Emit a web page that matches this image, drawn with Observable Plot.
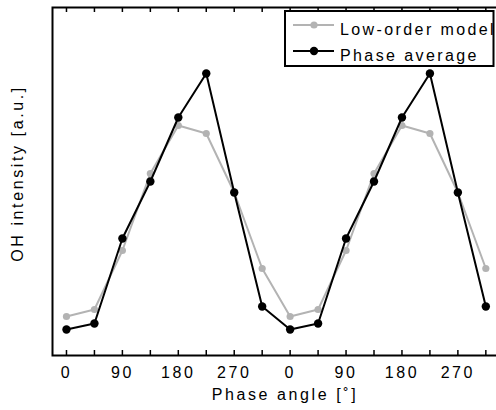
<!DOCTYPE html>
<html><head><meta charset="utf-8">
<script src="https://cdn.jsdelivr.net/npm/d3@7"></script>
<script src="https://cdn.jsdelivr.net/npm/@observablehq/plot@0.6"></script>
<style>
html,body{margin:0;padding:0;background:#fff;overflow:hidden;}
#wrap{position:relative;width:496px;height:410px;overflow:hidden;}
#legend{position:absolute;left:0;top:0;pointer-events:none;}
</style></head><body><div id="wrap"></div>
<script>
// Phase angle (cumulative over two periods), degrees
const phaseAngle = [0,45,90,135,180,225,270,315,360,405,450,495,540,585,630,675];
// OH intensity, arbitrary units
const lowOrderModel = [0.39,0.46,1.05,1.82,2.30,2.22,1.63,0.87,0.39,0.46,1.05,1.82,2.30,2.22,1.63,0.87];
const phaseAverage  = [0.26,0.32,1.17,1.74,2.38,2.82,1.63,0.49,0.26,0.32,1.17,1.74,2.38,2.82,1.63,0.49];
const tickValues = [0,45,90,135,180,225,270,315,360,405,450,495,540,585,630,675];
const labelValues = [0,90,180,270,360,450,540,630];
const tickLabels = ["0","90","180","270","0","90","180","270"];
const seriesNames = ["Low-order model","Phase average"];
const seriesColors = ["#b3b3b3","#000000"];
const xLabel = "Phase angle [˚]";
const yLabel = "OH intensity [a.u.]";

const low = phaseAngle.map((a,i)=>({x:a, y:lowOrderModel[i]}));
const avg = phaseAngle.map((a,i)=>({x:a, y:phaseAverage[i]}));

const plot = Plot.plot({
  width:496, height:410,
  marginLeft:52, marginTop:7, marginBottom:55, marginRight:-3,
  style:{fontFamily:"'Liberation Sans', Arial, sans-serif", fontSize:"16px", letterSpacing:"2.6px", color:"#000", background:"#fff", overflow:"hidden"},
  x:{domain:[-22.5, 697]},
  y:{domain:[0, 3.48], axis:null},
  marks:[
    Plot.lineY(low, {x:"x", y:"y", stroke:seriesColors[0], strokeWidth:2}),
    Plot.dot(low, {x:"x", y:"y", fill:seriesColors[0], r:3.6}),
    Plot.lineY(avg, {x:"x", y:"y", stroke:seriesColors[1], strokeWidth:2}),
    Plot.dot(avg, {x:"x", y:"y", fill:seriesColors[1], r:4.2}),
    Plot.tickX(tickValues, {x:d=>d, insetBottom:343, stroke:"#000", strokeWidth:1.5}),
    Plot.tickX(tickValues, {x:d=>d, insetTop:343, stroke:"#000", strokeWidth:1.5}),
    Plot.axisX(labelValues, {tickSize:0, tickPadding:11, tickFormat:d=>tickLabels[labelValues.indexOf(d)], label:null}),
    Plot.frame({stroke:"#000", strokeWidth:2}),
    Plot.text([xLabel], {text:d=>d, frameAnchor:"bottom", lineAnchor:"top", textAnchor:"middle", dy:33, dx:9}),
    Plot.text([yLabel], {text:d=>d, frameAnchor:"left", rotate:-90, textAnchor:"middle", lineAnchor:"middle", dx:-35, dy:-8})
  ]
});
const wrap = document.getElementById("wrap");
wrap.appendChild(plot);

// Legend overlay
const lg = d3.select(wrap).append("svg").attr("id","legend").attr("width",496).attr("height",410);
lg.append("rect").attr("x",285).attr("y",11).attr("width",208.5).attr("height",55)
  .attr("fill","#fff").attr("stroke","#000").attr("stroke-width",2);
seriesNames.forEach((name,i)=>{
  const cy = 25 + i*26;
  lg.append("line").attr("x1",293).attr("x2",334).attr("y1",cy).attr("y2",cy)
    .attr("stroke",seriesColors[i]).attr("stroke-width",2);
  lg.append("circle").attr("cx",314).attr("cy",cy).attr("r", i===0?3.6:4.2).attr("fill",seriesColors[i]);
  lg.append("text").attr("x",340).attr("y",cy+10).text(name)
    .attr("font-family","'Liberation Sans', Arial, sans-serif").attr("font-size",16)
    .attr("letter-spacing","2.4px").attr("fill","#000");
});
</script></body></html>
